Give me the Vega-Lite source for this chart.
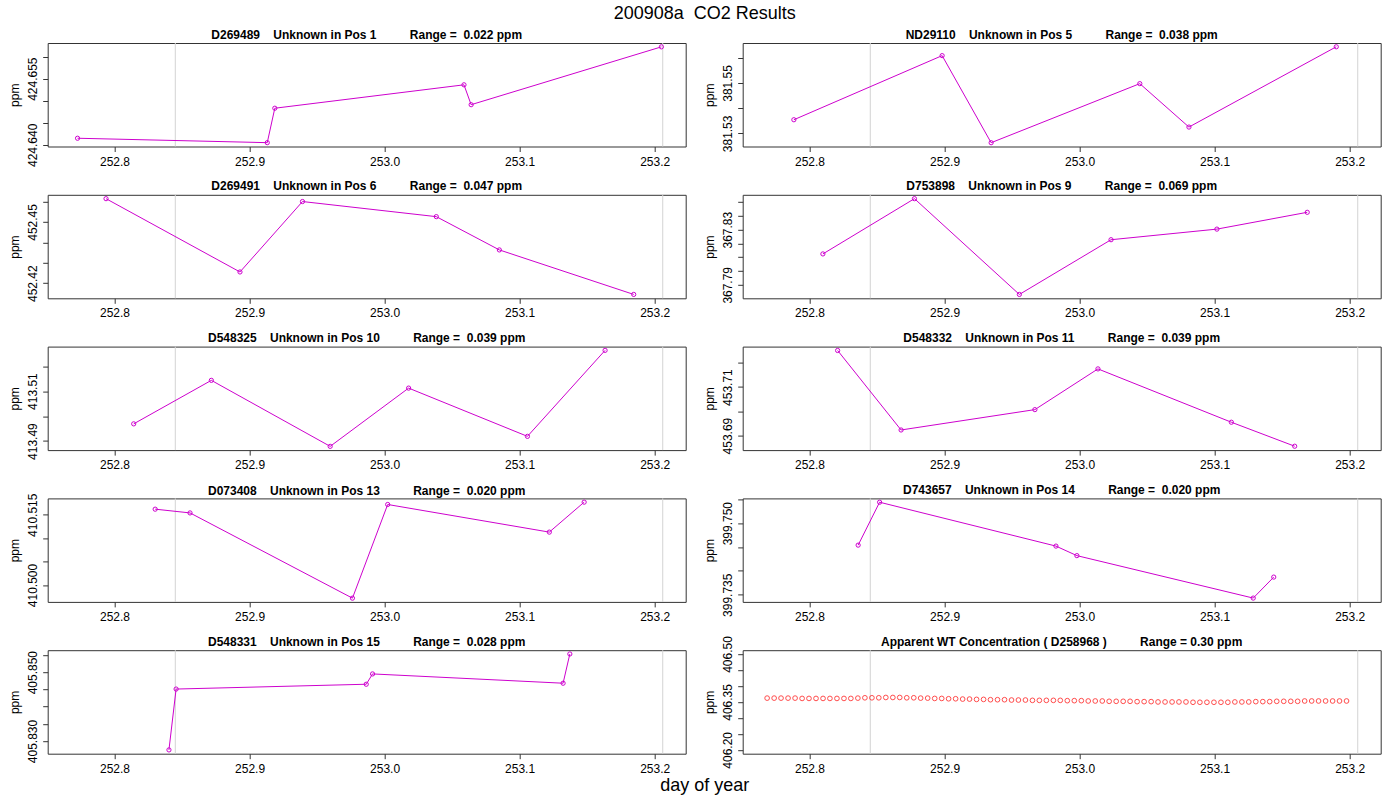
{
  "$schema": "https://vega.github.io/schema/vega-lite/v6.json",
  "background": "white",
  "padding": {"left": 7.7, "top": 4, "right": 10, "bottom": 2},
  "title": {"text": "200908a\u00a0\u00a0CO2 Results", "fontSize": 18, "fontWeight": "normal", "anchor": "middle", "frame": "bounds", "baseline": "alphabetic", "offset": -8.8, "dx": 10, "color": "#000"},
  "config": {
    "font": "Liberation Sans",
    "view": {"stroke": "#333333", "strokeWidth": 1},
    "axis": {"labelFont": "Liberation Sans", "labelFontSize": 12, "labelColor": "#000", "tickColor": "#333", "tickSize": 5, "domain": false, "grid": false, "labelOverlap": false, "labelFlush": false, "titleFont": "Liberation Sans", "titleFontWeight": "normal", "titleFontSize": 12, "titleColor": "#000"},
    "title": {"font": "Liberation Sans", "fontSize": 12, "fontWeight": "bold", "color": "#000", "anchor": "middle", "frame": "group", "baseline": "alphabetic", "offset": 0.9}
  },
  "datasets": {
    "markers": [{"t": 252.845}, {"t": 253.206}],
    "samples": [
      {"id": "D269489", "t": 252.7726, "ppm": 424.6415},
      {"id": "D269489", "t": 252.9131, "ppm": 424.6405},
      {"id": "D269489", "t": 252.9187, "ppm": 424.6483},
      {"id": "D269489", "t": 253.0588, "ppm": 424.6536},
      {"id": "D269489", "t": 253.0641, "ppm": 424.6491},
      {"id": "D269489", "t": 253.2050, "ppm": 424.6622},
      {"id": "ND29110", "t": 252.7884, "ppm": 381.5354},
      {"id": "ND29110", "t": 252.8982, "ppm": 381.5608},
      {"id": "ND29110", "t": 252.9345, "ppm": 381.5263},
      {"id": "ND29110", "t": 253.0446, "ppm": 381.5497},
      {"id": "ND29110", "t": 253.0810, "ppm": 381.5325},
      {"id": "ND29110", "t": 253.1901, "ppm": 381.5643},
      {"id": "D269491", "t": 252.7937, "ppm": 452.4614},
      {"id": "D269491", "t": 252.8929, "ppm": 452.4255},
      {"id": "D269491", "t": 252.9392, "ppm": 452.4600},
      {"id": "D269491", "t": 253.0383, "ppm": 452.4526},
      {"id": "D269491", "t": 253.0850, "ppm": 452.4363},
      {"id": "D269491", "t": 253.1845, "ppm": 452.4145},
      {"id": "D753898", "t": 252.8099, "ppm": 367.8124},
      {"id": "D753898", "t": 252.8777, "ppm": 367.8525},
      {"id": "D753898", "t": 252.9554, "ppm": 367.7830},
      {"id": "D753898", "t": 253.0233, "ppm": 367.8227},
      {"id": "D753898", "t": 253.1017, "ppm": 367.8304},
      {"id": "D753898", "t": 253.1686, "ppm": 367.8426},
      {"id": "D548325", "t": 252.8142, "ppm": 413.4969},
      {"id": "D548325", "t": 252.8717, "ppm": 413.5143},
      {"id": "D548325", "t": 252.9597, "ppm": 413.4879},
      {"id": "D548325", "t": 253.0178, "ppm": 413.5112},
      {"id": "D548325", "t": 253.1058, "ppm": 413.4919},
      {"id": "D548325", "t": 253.1633, "ppm": 413.5263},
      {"id": "D548332", "t": 252.8208, "ppm": 453.7251},
      {"id": "D548332", "t": 252.8678, "ppm": 453.6923},
      {"id": "D548332", "t": 252.9669, "ppm": 453.7007},
      {"id": "D548332", "t": 253.0136, "ppm": 453.7175},
      {"id": "D548332", "t": 253.1124, "ppm": 453.6955},
      {"id": "D548332", "t": 253.1593, "ppm": 453.6856},
      {"id": "D073408", "t": 252.8301, "ppm": 410.5162},
      {"id": "D073408", "t": 252.8559, "ppm": 410.5154},
      {"id": "D073408", "t": 252.9762, "ppm": 410.4972},
      {"id": "D073408", "t": 253.0023, "ppm": 410.5172},
      {"id": "D073408", "t": 253.1220, "ppm": 410.5113},
      {"id": "D073408", "t": 253.1478, "ppm": 410.5177},
      {"id": "D743657", "t": 252.8360, "ppm": 399.7454},
      {"id": "D743657", "t": 252.8519, "ppm": 399.7544},
      {"id": "D743657", "t": 252.9825, "ppm": 399.7452},
      {"id": "D743657", "t": 252.9980, "ppm": 399.7432},
      {"id": "D743657", "t": 253.1286, "ppm": 399.7343},
      {"id": "D743657", "t": 253.1438, "ppm": 399.7387},
      {"id": "D548331", "t": 252.8403, "ppm": 405.8274},
      {"id": "D548331", "t": 252.8456, "ppm": 405.8451},
      {"id": "D548331", "t": 252.9864, "ppm": 405.8465},
      {"id": "D548331", "t": 252.9911, "ppm": 405.8495},
      {"id": "D548331", "t": 253.1322, "ppm": 405.8468},
      {"id": "D548331", "t": 253.1372, "ppm": 405.8553}
    ],
    "wt": [
      {"t": 252.7686, "ppm": 406.362}, {"t": 252.7738, "ppm": 406.362}, {"t": 252.7789, "ppm": 406.362}, {"t": 252.7841, "ppm": 406.362},
      {"t": 252.7893, "ppm": 406.362}, {"t": 252.7945, "ppm": 406.361}, {"t": 252.7996, "ppm": 406.361}, {"t": 252.8048, "ppm": 406.361},
      {"t": 252.8100, "ppm": 406.361}, {"t": 252.8151, "ppm": 406.361}, {"t": 252.8203, "ppm": 406.361}, {"t": 252.8255, "ppm": 406.361},
      {"t": 252.8306, "ppm": 406.361}, {"t": 252.8358, "ppm": 406.362}, {"t": 252.8410, "ppm": 406.363}, {"t": 252.8462, "ppm": 406.363},
      {"t": 252.8513, "ppm": 406.363}, {"t": 252.8565, "ppm": 406.364}, {"t": 252.8617, "ppm": 406.364}, {"t": 252.8668, "ppm": 406.364},
      {"t": 252.8720, "ppm": 406.363}, {"t": 252.8772, "ppm": 406.363}, {"t": 252.8823, "ppm": 406.362}, {"t": 252.8875, "ppm": 406.362},
      {"t": 252.8927, "ppm": 406.361}, {"t": 252.8979, "ppm": 406.361}, {"t": 252.9030, "ppm": 406.360}, {"t": 252.9082, "ppm": 406.360},
      {"t": 252.9134, "ppm": 406.359}, {"t": 252.9185, "ppm": 406.359}, {"t": 252.9237, "ppm": 406.358}, {"t": 252.9289, "ppm": 406.358},
      {"t": 252.9340, "ppm": 406.357}, {"t": 252.9392, "ppm": 406.357}, {"t": 252.9444, "ppm": 406.357}, {"t": 252.9496, "ppm": 406.356},
      {"t": 252.9547, "ppm": 406.356}, {"t": 252.9599, "ppm": 406.356}, {"t": 252.9651, "ppm": 406.355}, {"t": 252.9702, "ppm": 406.355},
      {"t": 252.9754, "ppm": 406.355}, {"t": 252.9806, "ppm": 406.355}, {"t": 252.9857, "ppm": 406.355}, {"t": 252.9909, "ppm": 406.354},
      {"t": 252.9961, "ppm": 406.354}, {"t": 253.0013, "ppm": 406.354}, {"t": 253.0064, "ppm": 406.353}, {"t": 253.0116, "ppm": 406.353},
      {"t": 253.0168, "ppm": 406.353}, {"t": 253.0219, "ppm": 406.352}, {"t": 253.0271, "ppm": 406.352}, {"t": 253.0323, "ppm": 406.352},
      {"t": 253.0374, "ppm": 406.352}, {"t": 253.0426, "ppm": 406.351}, {"t": 253.0478, "ppm": 406.351}, {"t": 253.0530, "ppm": 406.351},
      {"t": 253.0581, "ppm": 406.350}, {"t": 253.0633, "ppm": 406.350}, {"t": 253.0685, "ppm": 406.350}, {"t": 253.0736, "ppm": 406.350},
      {"t": 253.0788, "ppm": 406.350}, {"t": 253.0840, "ppm": 406.349}, {"t": 253.0891, "ppm": 406.349}, {"t": 253.0943, "ppm": 406.349},
      {"t": 253.0995, "ppm": 406.349}, {"t": 253.1047, "ppm": 406.349}, {"t": 253.1098, "ppm": 406.349}, {"t": 253.1150, "ppm": 406.350},
      {"t": 253.1202, "ppm": 406.350}, {"t": 253.1253, "ppm": 406.350}, {"t": 253.1305, "ppm": 406.351}, {"t": 253.1357, "ppm": 406.351},
      {"t": 253.1408, "ppm": 406.351}, {"t": 253.1460, "ppm": 406.352}, {"t": 253.1512, "ppm": 406.352}, {"t": 253.1564, "ppm": 406.352},
      {"t": 253.1615, "ppm": 406.352}, {"t": 253.1667, "ppm": 406.353}, {"t": 253.1719, "ppm": 406.353}, {"t": 253.1770, "ppm": 406.353},
      {"t": 253.1822, "ppm": 406.353}, {"t": 253.1874, "ppm": 406.353}, {"t": 253.1925, "ppm": 406.353}, {"t": 253.1977, "ppm": 406.353}
    ]
  },
  "vconcat": [
    {
      "title": {"text": "day of year", "orient": "bottom", "fontSize": 18, "fontWeight": "normal", "frame": "bounds", "dx": 10, "offset": 16.5, "baseline": "alphabetic", "anchor": "middle"},
      "columns": 2,
      "bounds": "flush",
      "spacing": {"row": 47.8, "column": 57},
      "concat": [
        {
          "width": 638, "height": 103.5,
          "title": {"text": "D269489\u00a0\u00a0\u00a0\u00a0Unknown in Pos 1\u00a0\u00a0\u00a0\u00a0\u00a0\u00a0\u00a0\u00a0\u00a0\u00a0Range =\u00a0\u00a00.022 ppm"},
          "layer": [
            {"data": {"name": "markers"}, "mark": {"type": "rule", "color": "#d3d3d3", "strokeWidth": 1},
             "encoding": {"x": {"field": "t", "type": "quantitative", "scale": {"domain": [252.7505, 253.2230], "nice": false, "zero": false}, "axis": {"values": [252.8, 252.9, 253.0, 253.1, 253.2], "format": ".1f", "title": null, "labelPadding": 4.5}}}},
            {"data": {"name": "samples"}, "transform": [{"filter": "datum.id === 'D269489'"}],
             "mark": {"type": "line", "color": "#cd00cd", "strokeWidth": 1, "point": {"filled": false, "color": "#cd00cd", "size": 18, "strokeWidth": 1}},
             "encoding": {
               "x": {"field": "t", "type": "quantitative", "scale": {"domain": [252.7505, 253.2230], "nice": false, "zero": false}, "axis": {"values": [252.8, 252.9, 253.0, 253.1, 253.2], "format": ".1f", "title": null, "labelPadding": 4.5}},
               "y": {"field": "ppm", "type": "quantitative", "scale": {"domain": [424.63963, 424.66307], "nice": false, "zero": false},
                     "axis": {"title": "ppm", "values": [424.640, 424.645, 424.650, 424.655, 424.660], "labelExpr": "indexof(['424.640','424.655'], format(datum.value, '.3f')) >= 0 ? format(datum.value, '.3f') : ''", "labelAngle": 270, "labelAlign": "center", "labelBaseline": "alphabetic", "labelPadding": 5.7, "titlePadding": 5.3}}
             }}
          ]
        },
        {
          "width": 638, "height": 103.5,
          "title": {"text": "ND29110\u00a0\u00a0\u00a0\u00a0Unknown in Pos 5\u00a0\u00a0\u00a0\u00a0\u00a0\u00a0\u00a0\u00a0\u00a0\u00a0Range =\u00a0\u00a00.038 ppm"},
          "layer": [
            {"data": {"name": "markers"}, "mark": {"type": "rule", "color": "#d3d3d3", "strokeWidth": 1},
             "encoding": {"x": {"field": "t", "type": "quantitative", "scale": {"domain": [252.7505, 253.2230], "nice": false, "zero": false}, "axis": {"values": [252.8, 252.9, 253.0, 253.1, 253.2], "format": ".1f", "title": null, "labelPadding": 4.5}}}},
            {"data": {"name": "samples"}, "transform": [{"filter": "datum.id === 'ND29110'"}],
             "mark": {"type": "line", "color": "#cd00cd", "strokeWidth": 1, "point": {"filled": false, "color": "#cd00cd", "size": 18, "strokeWidth": 1}},
             "encoding": {
               "x": {"field": "t", "type": "quantitative", "scale": {"domain": [252.7505, 253.2230], "nice": false, "zero": false}, "axis": {"values": [252.8, 252.9, 253.0, 253.1, 253.2], "format": ".1f", "title": null, "labelPadding": 4.5}},
               "y": {"field": "ppm", "type": "quantitative", "scale": {"domain": [381.5248, 381.5658], "nice": false, "zero": false},
                     "axis": {"title": "ppm", "values": [381.53, 381.54, 381.55, 381.56], "labelExpr": "indexof(['381.53','381.55'], format(datum.value, '.2f')) >= 0 ? format(datum.value, '.2f') : ''", "labelAngle": 270, "labelAlign": "center", "labelBaseline": "alphabetic", "labelPadding": 5.7, "titlePadding": 5.3}}
             }}
          ]
        },
        {
          "width": 638, "height": 103.5,
          "title": {"text": "D269491\u00a0\u00a0\u00a0\u00a0Unknown in Pos 6\u00a0\u00a0\u00a0\u00a0\u00a0\u00a0\u00a0\u00a0\u00a0\u00a0Range =\u00a0\u00a00.047 ppm"},
          "layer": [
            {"data": {"name": "markers"}, "mark": {"type": "rule", "color": "#d3d3d3", "strokeWidth": 1},
             "encoding": {"x": {"field": "t", "type": "quantitative", "scale": {"domain": [252.7505, 253.2230], "nice": false, "zero": false}, "axis": {"values": [252.8, 252.9, 253.0, 253.1, 253.2], "format": ".1f", "title": null, "labelPadding": 4.5}}}},
            {"data": {"name": "samples"}, "transform": [{"filter": "datum.id === 'D269491'"}],
             "mark": {"type": "line", "color": "#cd00cd", "strokeWidth": 1, "point": {"filled": false, "color": "#cd00cd", "size": 18, "strokeWidth": 1}},
             "encoding": {
               "x": {"field": "t", "type": "quantitative", "scale": {"domain": [252.7505, 253.2230], "nice": false, "zero": false}, "axis": {"values": [252.8, 252.9, 253.0, 253.1, 253.2], "format": ".1f", "title": null, "labelPadding": 4.5}},
               "y": {"field": "ppm", "type": "quantitative", "scale": {"domain": [452.4126, 452.4633], "nice": false, "zero": false},
                     "axis": {"title": "ppm", "values": [452.42, 452.43, 452.44, 452.45, 452.46], "labelExpr": "indexof(['452.42','452.45'], format(datum.value, '.2f')) >= 0 ? format(datum.value, '.2f') : ''", "labelAngle": 270, "labelAlign": "center", "labelBaseline": "alphabetic", "labelPadding": 5.7, "titlePadding": 5.3}}
             }}
          ]
        },
        {
          "width": 638, "height": 103.5,
          "title": {"text": "D753898\u00a0\u00a0\u00a0\u00a0Unknown in Pos 9\u00a0\u00a0\u00a0\u00a0\u00a0\u00a0\u00a0\u00a0\u00a0\u00a0Range =\u00a0\u00a00.069 ppm"},
          "layer": [
            {"data": {"name": "markers"}, "mark": {"type": "rule", "color": "#d3d3d3", "strokeWidth": 1},
             "encoding": {"x": {"field": "t", "type": "quantitative", "scale": {"domain": [252.7505, 253.2230], "nice": false, "zero": false}, "axis": {"values": [252.8, 252.9, 253.0, 253.1, 253.2], "format": ".1f", "title": null, "labelPadding": 4.5}}}},
            {"data": {"name": "samples"}, "transform": [{"filter": "datum.id === 'D753898'"}],
             "mark": {"type": "line", "color": "#cd00cd", "strokeWidth": 1, "point": {"filled": false, "color": "#cd00cd", "size": 18, "strokeWidth": 1}},
             "encoding": {
               "x": {"field": "t", "type": "quantitative", "scale": {"domain": [252.7505, 253.2230], "nice": false, "zero": false}, "axis": {"values": [252.8, 252.9, 253.0, 253.1, 253.2], "format": ".1f", "title": null, "labelPadding": 4.5}},
               "y": {"field": "ppm", "type": "quantitative", "scale": {"domain": [367.7802, 367.8553], "nice": false, "zero": false},
                     "axis": {"title": "ppm", "values": [367.79, 367.80, 367.81, 367.82, 367.83, 367.84, 367.85], "labelExpr": "indexof(['367.79','367.83'], format(datum.value, '.2f')) >= 0 ? format(datum.value, '.2f') : ''", "labelAngle": 270, "labelAlign": "center", "labelBaseline": "alphabetic", "labelPadding": 5.7, "titlePadding": 5.3}}
             }}
          ]
        },
        {
          "width": 638, "height": 103.5,
          "title": {"text": "D548325\u00a0\u00a0\u00a0\u00a0Unknown in Pos 10\u00a0\u00a0\u00a0\u00a0\u00a0\u00a0\u00a0\u00a0\u00a0\u00a0Range =\u00a0\u00a00.039 ppm"},
          "layer": [
            {"data": {"name": "markers"}, "mark": {"type": "rule", "color": "#d3d3d3", "strokeWidth": 1},
             "encoding": {"x": {"field": "t", "type": "quantitative", "scale": {"domain": [252.7505, 253.2230], "nice": false, "zero": false}, "axis": {"values": [252.8, 252.9, 253.0, 253.1, 253.2], "format": ".1f", "title": null, "labelPadding": 4.5}}}},
            {"data": {"name": "samples"}, "transform": [{"filter": "datum.id === 'D548325'"}],
             "mark": {"type": "line", "color": "#cd00cd", "strokeWidth": 1, "point": {"filled": false, "color": "#cd00cd", "size": 18, "strokeWidth": 1}},
             "encoding": {
               "x": {"field": "t", "type": "quantitative", "scale": {"domain": [252.7505, 253.2230], "nice": false, "zero": false}, "axis": {"values": [252.8, 252.9, 253.0, 253.1, 253.2], "format": ".1f", "title": null, "labelPadding": 4.5}},
               "y": {"field": "ppm", "type": "quantitative", "scale": {"domain": [413.4864, 413.5278], "nice": false, "zero": false},
                     "axis": {"title": "ppm", "values": [413.49, 413.50, 413.51, 413.52], "labelExpr": "indexof(['413.49','413.51'], format(datum.value, '.2f')) >= 0 ? format(datum.value, '.2f') : ''", "labelAngle": 270, "labelAlign": "center", "labelBaseline": "alphabetic", "labelPadding": 5.7, "titlePadding": 5.3}}
             }}
          ]
        },
        {
          "width": 638, "height": 103.5,
          "title": {"text": "D548332\u00a0\u00a0\u00a0\u00a0Unknown in Pos 11\u00a0\u00a0\u00a0\u00a0\u00a0\u00a0\u00a0\u00a0\u00a0\u00a0Range =\u00a0\u00a00.039 ppm"},
          "layer": [
            {"data": {"name": "markers"}, "mark": {"type": "rule", "color": "#d3d3d3", "strokeWidth": 1},
             "encoding": {"x": {"field": "t", "type": "quantitative", "scale": {"domain": [252.7505, 253.2230], "nice": false, "zero": false}, "axis": {"values": [252.8, 252.9, 253.0, 253.1, 253.2], "format": ".1f", "title": null, "labelPadding": 4.5}}}},
            {"data": {"name": "samples"}, "transform": [{"filter": "datum.id === 'D548332'"}],
             "mark": {"type": "line", "color": "#cd00cd", "strokeWidth": 1, "point": {"filled": false, "color": "#cd00cd", "size": 18, "strokeWidth": 1}},
             "encoding": {
               "x": {"field": "t", "type": "quantitative", "scale": {"domain": [252.7505, 253.2230], "nice": false, "zero": false}, "axis": {"values": [252.8, 252.9, 253.0, 253.1, 253.2], "format": ".1f", "title": null, "labelPadding": 4.5}},
               "y": {"field": "ppm", "type": "quantitative", "scale": {"domain": [453.6840, 453.7267], "nice": false, "zero": false},
                     "axis": {"title": "ppm", "values": [453.69, 453.70, 453.71, 453.72], "labelExpr": "indexof(['453.69','453.71'], format(datum.value, '.2f')) >= 0 ? format(datum.value, '.2f') : ''", "labelAngle": 270, "labelAlign": "center", "labelBaseline": "alphabetic", "labelPadding": 5.7, "titlePadding": 5.3}}
             }}
          ]
        },
        {
          "width": 638, "height": 103.5,
          "title": {"text": "D073408\u00a0\u00a0\u00a0\u00a0Unknown in Pos 13\u00a0\u00a0\u00a0\u00a0\u00a0\u00a0\u00a0\u00a0\u00a0\u00a0Range =\u00a0\u00a00.020 ppm", "offset": -4.4},
          "layer": [
            {"data": {"name": "markers"}, "mark": {"type": "rule", "color": "#d3d3d3", "strokeWidth": 1},
             "encoding": {"x": {"field": "t", "type": "quantitative", "scale": {"domain": [252.7505, 253.2230], "nice": false, "zero": false}, "axis": {"values": [252.8, 252.9, 253.0, 253.1, 253.2], "format": ".1f", "title": null, "labelPadding": 4.5}}}},
            {"data": {"name": "samples"}, "transform": [{"filter": "datum.id === 'D073408'"}],
             "mark": {"type": "line", "color": "#cd00cd", "strokeWidth": 1, "point": {"filled": false, "color": "#cd00cd", "size": 18, "strokeWidth": 1}},
             "encoding": {
               "x": {"field": "t", "type": "quantitative", "scale": {"domain": [252.7505, 253.2230], "nice": false, "zero": false}, "axis": {"values": [252.8, 252.9, 253.0, 253.1, 253.2], "format": ".1f", "title": null, "labelPadding": 4.5}},
               "y": {"field": "ppm", "type": "quantitative", "scale": {"domain": [410.4964, 410.5185], "nice": false, "zero": false},
                     "axis": {"title": "ppm", "values": [410.500, 410.505, 410.510, 410.515], "labelExpr": "indexof(['410.500','410.515'], format(datum.value, '.3f')) >= 0 ? format(datum.value, '.3f') : ''", "labelAngle": 270, "labelAlign": "center", "labelBaseline": "alphabetic", "labelPadding": 5.7, "titlePadding": 5.3}}
             }}
          ]
        },
        {
          "width": 638, "height": 103.5,
          "title": {"text": "D743657\u00a0\u00a0\u00a0\u00a0Unknown in Pos 14\u00a0\u00a0\u00a0\u00a0\u00a0\u00a0\u00a0\u00a0\u00a0\u00a0Range =\u00a0\u00a00.020 ppm"},
          "layer": [
            {"data": {"name": "markers"}, "mark": {"type": "rule", "color": "#d3d3d3", "strokeWidth": 1},
             "encoding": {"x": {"field": "t", "type": "quantitative", "scale": {"domain": [252.7505, 253.2230], "nice": false, "zero": false}, "axis": {"values": [252.8, 252.9, 253.0, 253.1, 253.2], "format": ".1f", "title": null, "labelPadding": 4.5}}}},
            {"data": {"name": "samples"}, "transform": [{"filter": "datum.id === 'D743657'"}],
             "mark": {"type": "line", "color": "#cd00cd", "strokeWidth": 1, "point": {"filled": false, "color": "#cd00cd", "size": 18, "strokeWidth": 1}},
             "encoding": {
               "x": {"field": "t", "type": "quantitative", "scale": {"domain": [252.7505, 253.2230], "nice": false, "zero": false}, "axis": {"values": [252.8, 252.9, 253.0, 253.1, 253.2], "format": ".1f", "title": null, "labelPadding": 4.5}},
               "y": {"field": "ppm", "type": "quantitative", "scale": {"domain": [399.7335, 399.7552], "nice": false, "zero": false},
                     "axis": {"title": "ppm", "values": [399.735, 399.740, 399.745, 399.750, 399.755], "labelExpr": "indexof(['399.735','399.750'], format(datum.value, '.3f')) >= 0 ? format(datum.value, '.3f') : ''", "labelAngle": 270, "labelAlign": "center", "labelBaseline": "alphabetic", "labelPadding": 5.7, "titlePadding": 5.3}}
             }}
          ]
        },
        {
          "width": 638, "height": 103.5,
          "title": {"text": "D548331\u00a0\u00a0\u00a0\u00a0Unknown in Pos 15\u00a0\u00a0\u00a0\u00a0\u00a0\u00a0\u00a0\u00a0\u00a0\u00a0Range =\u00a0\u00a00.028 ppm"},
          "layer": [
            {"data": {"name": "markers"}, "mark": {"type": "rule", "color": "#d3d3d3", "strokeWidth": 1},
             "encoding": {"x": {"field": "t", "type": "quantitative", "scale": {"domain": [252.7505, 253.2230], "nice": false, "zero": false}, "axis": {"values": [252.8, 252.9, 253.0, 253.1, 253.2], "format": ".1f", "title": null, "labelPadding": 4.5}}}},
            {"data": {"name": "samples"}, "transform": [{"filter": "datum.id === 'D548331'"}],
             "mark": {"type": "line", "color": "#cd00cd", "strokeWidth": 1, "point": {"filled": false, "color": "#cd00cd", "size": 18, "strokeWidth": 1}},
             "encoding": {
               "x": {"field": "t", "type": "quantitative", "scale": {"domain": [252.7505, 253.2230], "nice": false, "zero": false}, "axis": {"values": [252.8, 252.9, 253.0, 253.1, 253.2], "format": ".1f", "title": null, "labelPadding": 4.5}},
               "y": {"field": "ppm", "type": "quantitative", "scale": {"domain": [405.8263, 405.8564], "nice": false, "zero": false},
                     "axis": {"title": "ppm", "values": [405.830, 405.835, 405.840, 405.845, 405.850, 405.855], "labelExpr": "indexof(['405.830','405.850'], format(datum.value, '.3f')) >= 0 ? format(datum.value, '.3f') : ''", "labelAngle": 270, "labelAlign": "center", "labelBaseline": "alphabetic", "labelPadding": 5.7, "titlePadding": 5.3}}
             }}
          ]
        },
        {
          "width": 638, "height": 103.5,
          "title": {"text": "Apparent WT Concentration ( D258968 )\u00a0\u00a0\u00a0\u00a0\u00a0\u00a0\u00a0\u00a0\u00a0\u00a0Range = 0.30 ppm", "offset": -13.7},
          "layer": [
            {"data": {"name": "markers"}, "mark": {"type": "rule", "color": "#d3d3d3", "strokeWidth": 1},
             "encoding": {"x": {"field": "t", "type": "quantitative", "scale": {"domain": [252.7505, 253.2230], "nice": false, "zero": false}, "axis": {"values": [252.8, 252.9, 253.0, 253.1, 253.2], "format": ".1f", "title": null, "labelPadding": 4.5}}}},
            {"data": {"name": "wt"},
             "mark": {"type": "point", "shape": "circle", "filled": false, "color": "#ff0000", "size": 22, "strokeWidth": 1},
             "encoding": {
               "x": {"field": "t", "type": "quantitative", "scale": {"domain": [252.7505, 253.2230], "nice": false, "zero": false}, "axis": {"values": [252.8, 252.9, 253.0, 253.1, 253.2], "format": ".1f", "title": null, "labelPadding": 4.5}},
               "y": {"field": "ppm", "type": "quantitative", "scale": {"domain": [406.188, 406.512], "nice": false, "zero": false},
                     "axis": {"title": "ppm", "values": [406.20, 406.25, 406.30, 406.35, 406.40, 406.45, 406.50], "labelExpr": "indexof(['406.20','406.35','406.50'], format(datum.value, '.2f')) >= 0 ? format(datum.value, '.2f') : ''", "labelAngle": 270, "labelAlign": "center", "labelBaseline": "alphabetic", "labelPadding": 5.7, "titlePadding": 5.3}}
             }}
          ]
        }
      ]
    }
  ]
}
